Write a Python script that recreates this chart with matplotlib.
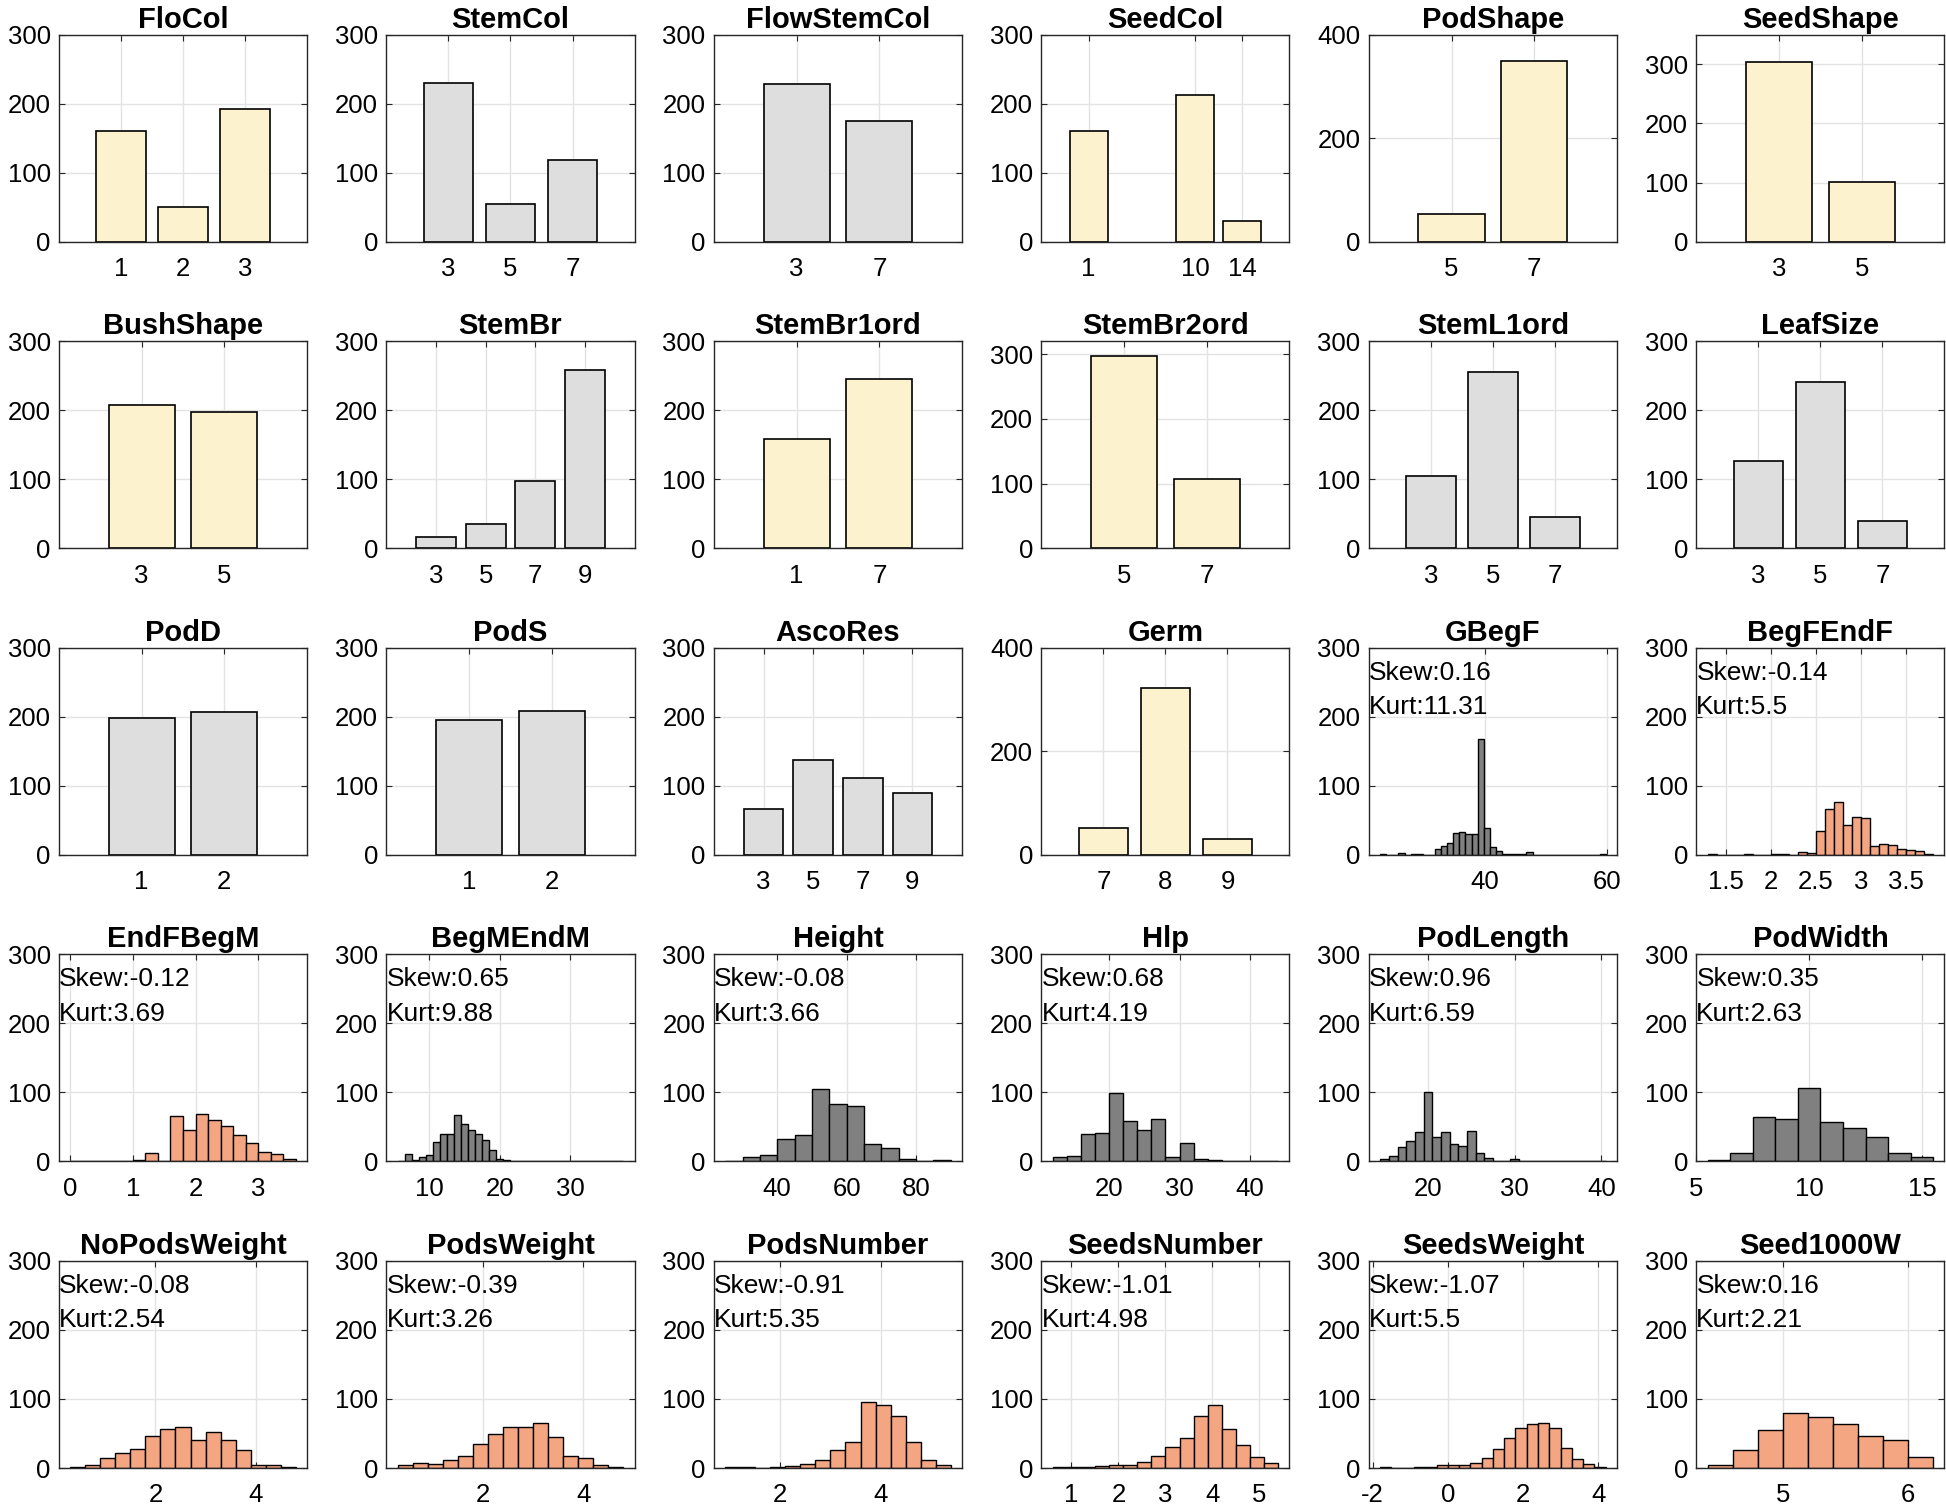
"""
Trait distributions: bar charts for the scored traits, histograms
(with skewness / kurtosis) for the measured ones. 5 x 6 grid.
"""

import numpy as np
import matplotlib
matplotlib.use("Agg")
import matplotlib.pyplot as plt
from matplotlib.ticker import FormatStrFormatter

# ==========================================
# data: scored traits (category value -> count)
# ==========================================
flocol_x = [1, 2, 3]
flocol_n = [161, 50, 192]
stemcol_x = [3, 5, 7]
stemcol_n = [230, 55, 119]
flowstemcol_x = [3, 7]
flowstemcol_n = [229, 175]
seedcol_x = [1, 10, 14]
seedcol_n = [161, 212, 30]
podshape_x = [5, 7]
podshape_n = [54, 350]
seedshape_x = [3, 5]
seedshape_n = [304, 101]

bushshape_x = [3, 5]
bushshape_n = [207, 197]
stembr_x = [3, 5, 7, 9]
stembr_n = [17, 35, 97, 258]
stembr1ord_x = [1, 7]
stembr1ord_n = [159, 245]
stembr2ord_x = [5, 7]
stembr2ord_n = [298, 107]
steml1ord_x = [3, 5, 7]
steml1ord_n = [105, 255, 45]
leafsize_x = [3, 5, 7]
leafsize_n = [126, 241, 39]

podd_x = [1, 2]
podd_n = [198, 207]
pods_x = [1, 2]
pods_n = [195, 209]
ascores_x = [3, 5, 7, 9]
ascores_n = [66, 138, 112, 90]
germ_x = [7, 8, 9]
germ_n = [52, 323, 30]

# ==========================================
# data: measured traits (bin range, counts per bin, skew, kurtosis)
# ==========================================
gbegf_range = (22.8, 59.8)
gbegf_counts = [1, 0, 0, 3, 0, 1, 1, 0, 0, 8, 13, 18, 32, 33, 31, 31, 168, 39,
                12, 5, 2, 2, 2, 2, 4, 0, 0, 0, 0, 0, 0, 0, 0, 0, 0, 0, 1]
begfendf_range = (1.3, 3.8)
begfendf_counts = [1, 0, 0, 0, 2, 0, 0, 1, 1, 0, 4, 3, 34, 66, 76, 44, 55, 53,
                   13, 16, 14, 9, 7, 5, 1]
endfbegm_range = (0.0, 3.6)
endfbegm_counts = [1, 0, 0, 1, 0, 2, 13, 0, 66, 45, 69, 60, 52, 38, 27, 14, 11, 3]
begmendm_range = (5.5, 37.5)
begmendm_counts = [1, 11, 2, 6, 10, 28, 40, 40, 67, 55, 45, 40, 31, 16, 3, 2, 1,
                   0, 0, 0, 0, 0, 0, 0, 0, 0, 0, 0, 0, 0, 0, 1]
height_range = (25, 90)
height_counts = [1, 7, 9, 33, 38, 105, 83, 81, 25, 19, 4, 1, 2]
hlp_range = (12, 44)
hlp_counts = [6, 8, 40, 41, 99, 59, 45, 61, 6, 27, 3, 2, 1, 1, 1, 1]
podlength_range = (14.5, 40.5)
podlength_counts = [3, 8, 21, 30, 43, 100, 36, 43, 25, 22, 44, 13, 5, 1, 0, 3,
                    0, 0, 0, 0, 0, 0, 0, 0, 0, 1]
podwidth_range = (5.5, 15.5)
podwidth_counts = [2, 12, 64, 62, 106, 57, 48, 35, 12, 6]
nopodsweight_range = (0.3, 4.8)
nopodsweight_counts = [1, 4, 15, 22, 28, 47, 57, 60, 40, 52, 40, 26, 4, 5, 1]
podsweight_range = (0.3, 4.8)
podsweight_counts = [5, 7, 6, 12, 17, 35, 50, 60, 60, 65, 45, 17, 14, 5, 2]
podsnumber_range = (0.9, 5.4)
podsnumber_counts = [1, 1, 0, 2, 3, 6, 12, 26, 38, 96, 91, 76, 37, 11, 4]
seedsnumber_range = (0.6, 5.4)
seedsnumber_counts = [1, 1, 2, 3, 4, 5, 8, 17, 30, 43, 76, 91, 56, 33, 16, 7]
seedsweight_range = (-1.8, 4.2)
seedsweight_counts = [2, 0, 0, 1, 2, 4, 5, 5, 7, 14, 27, 43, 58, 64, 65, 58, 29,
                      13, 6, 1]
seed1000w_range = (4.4, 6.2)
seed1000w_counts = [4, 26, 55, 79, 74, 64, 47, 40, 16]

hist_skew = [0.16, -0.14, -0.12, 0.65, -0.08, 0.68, 0.96, 0.35,
             -0.08, -0.39, -0.91, -1.01, -1.07, 0.16]
hist_kurt = [11.31, 5.5, 3.69, 9.88, 3.66, 4.19, 6.59, 2.63,
             2.54, 3.26, 5.35, 4.98, 5.5, 2.21]

# ==========================================
# styles
# ==========================================
YELLOW = "#FCF3CE"
LGRAY = "#DEDEDE"
DGRAY = "#808080"
ORANGE = "#F4A582"

TICK_FS = 18.5
TEXT_FS = 19
TITLE_FS = 21

plt.rcParams["font.family"] = ["Liberation Sans", "DejaVu Sans"]
plt.rcParams["axes.linewidth"] = 1.0


def style_axes(ax):
    ax.set_axisbelow(True)
    ax.grid(True, color="#E3E3E3", linewidth=1.0)
    for sp in ax.spines.values():
        sp.set_color("#262626")
    ax.tick_params(direction="in", top=True, right=True, length=4,
                   labelsize=TICK_FS, colors="#262626", width=0.8)
    ax.tick_params(axis="x", pad=11)
    ax.tick_params(axis="y", pad=6)
    for lab in ax.get_xticklabels() + ax.get_yticklabels():
        lab.set_color("black")


def draw_bar(ax, title, x, n, color, ymax=300, ystep=100):
    x = np.asarray(x)
    d = np.min(np.diff(x))
    ax.bar(x, n, width=0.8 * d, color=color, edgecolor="black", linewidth=1.2)
    ax.set_xlim(x.min() - d, x.max() + d)
    ax.set_ylim(0, ymax)
    ax.set_xticks(x)
    ax.set_xticklabels([str(v) for v in x])
    ax.set_yticks(np.arange(0, ymax + 1, ystep))
    ax.set_title(title, fontsize=TITLE_FS, fontweight="bold", pad=5)
    style_axes(ax)


def draw_hist(ax, title, rng, counts, color, xticks, skew, kurt):
    lo, hi = rng
    edges = np.linspace(lo, hi, len(counts) + 1)
    ax.hist(edges[:-1], bins=edges, weights=counts, color=color,
            edgecolor="black", linewidth=1.0)
    pad = 0.05 * (hi - lo)
    ax.set_xlim(lo - pad, hi + pad)
    ax.set_ylim(0, 300)
    ax.set_yticks([0, 100, 200, 300])
    ax.set_xticks(xticks)
    ax.xaxis.set_major_formatter(FormatStrFormatter("%g"))
    ax.text(0.0, 0.88, f"Skew:{skew}", transform=ax.transAxes,
            fontsize=TEXT_FS, va="center", ha="left")
    ax.text(0.0, 0.713, f"Kurt:{kurt}", transform=ax.transAxes,
            fontsize=TEXT_FS, va="center", ha="left")
    ax.set_title(title, fontsize=TITLE_FS, fontweight="bold", pad=5)
    style_axes(ax)


# ==========================================
# figure
# ==========================================
fig, axes = plt.subplots(5, 6, figsize=(19.46, 15.10), dpi=100)
fig.subplots_adjust(left=0.0303, right=0.9992, top=0.977, bottom=0.0278,
                    wspace=0.32, hspace=0.48)

bars = [
    ("FloCol", flocol_x, flocol_n, YELLOW, 300, 100),
    ("StemCol", stemcol_x, stemcol_n, LGRAY, 300, 100),
    ("FlowStemCol", flowstemcol_x, flowstemcol_n, LGRAY, 300, 100),
    ("SeedCol", seedcol_x, seedcol_n, YELLOW, 300, 100),
    ("PodShape", podshape_x, podshape_n, YELLOW, 400, 200),
    ("SeedShape", seedshape_x, seedshape_n, YELLOW, 350, 100),
    ("BushShape", bushshape_x, bushshape_n, YELLOW, 300, 100),
    ("StemBr", stembr_x, stembr_n, LGRAY, 300, 100),
    ("StemBr1ord", stembr1ord_x, stembr1ord_n, YELLOW, 300, 100),
    ("StemBr2ord", stembr2ord_x, stembr2ord_n, YELLOW, 320, 100),
    ("StemL1ord", steml1ord_x, steml1ord_n, LGRAY, 300, 100),
    ("LeafSize", leafsize_x, leafsize_n, LGRAY, 300, 100),
    ("PodD", podd_x, podd_n, LGRAY, 300, 100),
    ("PodS", pods_x, pods_n, LGRAY, 300, 100),
    ("AscoRes", ascores_x, ascores_n, LGRAY, 300, 100),
    ("Germ", germ_x, germ_n, YELLOW, 400, 200),
]

hists = [
    ("GBegF", gbegf_range, gbegf_counts, DGRAY, [40, 60]),
    ("BegFEndF", begfendf_range, begfendf_counts, ORANGE, [1.5, 2, 2.5, 3, 3.5]),
    ("EndFBegM", endfbegm_range, endfbegm_counts, ORANGE, [0, 1, 2, 3]),
    ("BegMEndM", begmendm_range, begmendm_counts, DGRAY, [10, 20, 30]),
    ("Height", height_range, height_counts, DGRAY, [40, 60, 80]),
    ("Hlp", hlp_range, hlp_counts, DGRAY, [20, 30, 40]),
    ("PodLength", podlength_range, podlength_counts, DGRAY, [20, 30, 40]),
    ("PodWidth", podwidth_range, podwidth_counts, DGRAY, [5, 10, 15]),
    ("NoPodsWeight", nopodsweight_range, nopodsweight_counts, ORANGE, [2, 4]),
    ("PodsWeight", podsweight_range, podsweight_counts, ORANGE, [2, 4]),
    ("PodsNumber", podsnumber_range, podsnumber_counts, ORANGE, [2, 4]),
    ("SeedsNumber", seedsnumber_range, seedsnumber_counts, ORANGE, [1, 2, 3, 4, 5]),
    ("SeedsWeight", seedsweight_range, seedsweight_counts, ORANGE, [-2, 0, 2, 4]),
    ("Seed1000W", seed1000w_range, seed1000w_counts, ORANGE, [5, 6]),
]

flat = axes.ravel()
for ax, (title, x, n, col, ymax, ystep) in zip(flat[:16], bars):
    draw_bar(ax, title, x, n, col, ymax, ystep)

for i, (ax, (title, rng, counts, col, xt)) in enumerate(zip(flat[16:], hists)):
    draw_hist(ax, title, rng, counts, col, xt, hist_skew[i], hist_kurt[i])

fig.savefig("out.png", dpi=100)
